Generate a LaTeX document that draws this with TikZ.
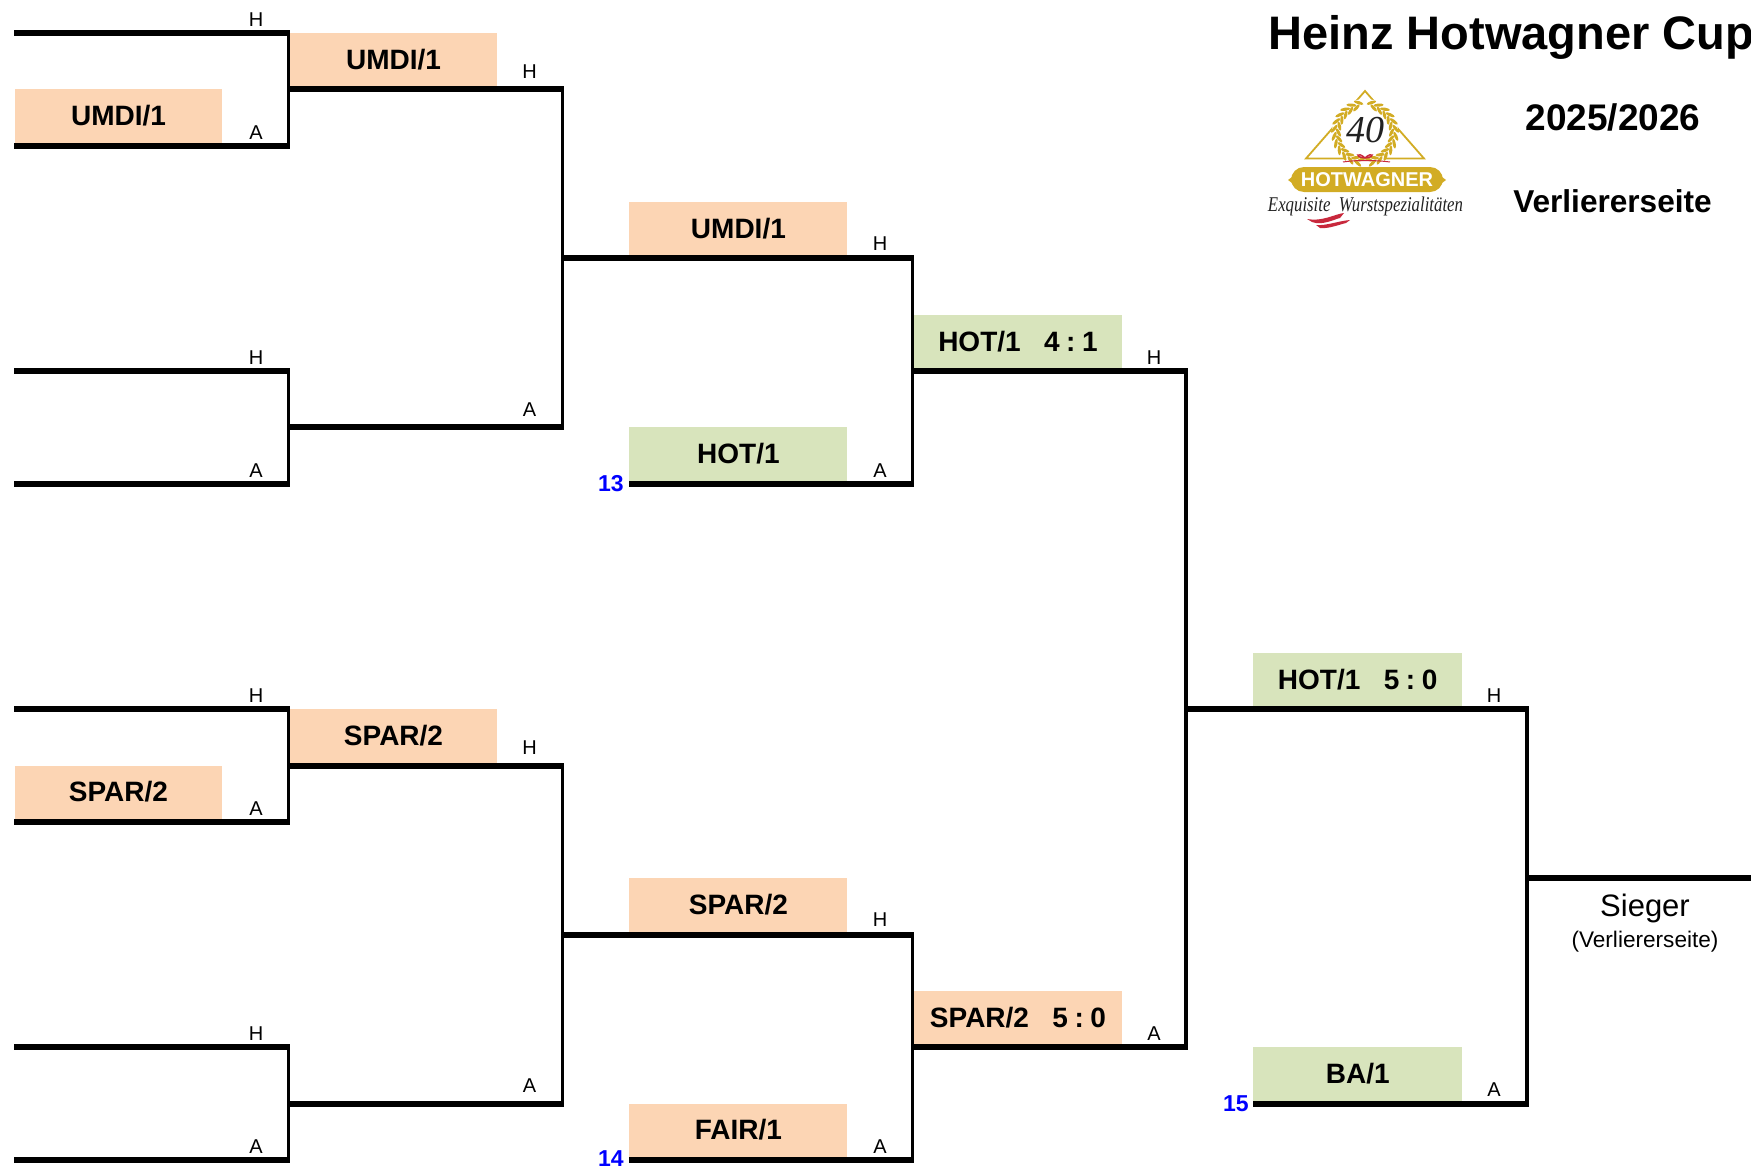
\documentclass[tikz,border=0pt]{standalone}
\usepackage{fontspec}
\setmainfont{Liberation Sans}
\newfontfamily\logoserif{Liberation Serif}
\definecolor{boxorange}{HTML}{FCD5B4}
\definecolor{boxgreen}{HTML}{D8E4BC}
\definecolor{logogold}{HTML}{D2AC24}
\definecolor{logored}{HTML}{C8283C}
\definecolor{logoink}{HTML}{222222}
\newcommand{\fs}[1]{\fontsize{#1pt}{#1pt}\selectfont}
\newcommand{\sep}{\hspace{3.3pt}}
\tikzset{
  hline/.style={line width=3pt,line cap=butt},
  vline/.style={line width=1.6pt,line cap=butt},
  basebox/.style={inner sep=0pt,minimum height=28pt,anchor=south west,font=\bfseries\fs{14},text height=9pt,text depth=0.7pt},
  wa/.style={basebox,fill=boxorange,minimum width=103.6pt},
  wg/.style={basebox,fill=boxgreen,minimum width=103.6pt},
  na/.style={basebox,fill=boxorange,minimum width=109pt},
  ng/.style={basebox,fill=boxgreen,minimum width=109pt},
  lab/.style={inner sep=0pt,font=\fs{10}},
  num/.style={inner sep=0pt,font=\bfseries\fs{11.5},text=blue},
  head/.style={inner sep=0pt,font=\bfseries},
}
\begin{document}
\begin{tikzpicture}[x=0.5pt,y=-0.5pt]
\useasboundingbox (0,0) rectangle (1751,1167);
\begin{scope}[yshift=-0.15pt]
% boxes
\node[wa] (b1) at (14.5,145.4) {UMDI/1};
\node[wa] (b2) at (14.5,821.6) {SPAR/2};
\node[wa] (b3) at (289.5,89.05) {UMDI/1};
\node[wa] (b4) at (289.5,765.25) {SPAR/2};
\node[na] (b5) at (629,258.1) {UMDI/1};
\node[ng] (b6) at (629,483.5) {HOT/1};
\node[na] (b7) at (629,934.3) {SPAR/2};
\node[na] (b8) at (629,1159.7) {FAIR/1};
\node[wg] (b9) at (914,370.8) {HOT/1\ \ \ 4\sep:\sep1};
\node[wa] (b10) at (914,1047) {SPAR/2\ \ \ 5\sep:\sep0};
\node[wg,minimum width=104.3pt] (b11) at (1253,708.9) {HOT/1\ \ \ 5\sep:\sep0};
\node[wg,minimum width=104.3pt] (b12) at (1253,1103.35) {BA/1};
% junction points
\coordinate (a0) at (14,32.7);   \coordinate (a0e) at (290,32.7);
\coordinate (a2) at (14,145.4);  \coordinate (a2e) at (290,145.4);
\coordinate (a6) at (14,370.8);  \coordinate (a6e) at (290,370.8);
\coordinate (a8) at (14,483.5);  \coordinate (a8e) at (290,483.5);
\coordinate (a12) at (14,708.9); \coordinate (a12e) at (290,708.9);
\coordinate (a14) at (14,821.6); \coordinate (a14e) at (290,821.6);
\coordinate (a18) at (14,1047);  \coordinate (a18e) at (290,1047);
\coordinate (a20) at (14,1159.7);\coordinate (a20e) at (290,1159.7);
\coordinate (v1a) at (288.6,31); \coordinate (v1b) at (288.6,147);
\coordinate (v2a) at (288.6,369); \coordinate (v2b) at (288.6,485);
\coordinate (v3a) at (288.6,707); \coordinate (v3b) at (288.6,823);
\coordinate (v4a) at (288.6,1045); \coordinate (v4b) at (288.6,1161);
\coordinate (c1) at (288,89.05);  \coordinate (c1e) at (564,89.05);
\coordinate (c7) at (288,427.15); \coordinate (c7e) at (564,427.15);
\coordinate (c13) at (288,765.25);\coordinate (c13e) at (564,765.25);
\coordinate (c19) at (288,1103.35);\coordinate (c19e) at (564,1103.35);
\coordinate (v5a) at (562.6,88); \coordinate (v5b) at (562.6,429);
\coordinate (v6a) at (562.6,764); \coordinate (v6b) at (562.6,1105);
\coordinate (d4) at (562,258.1); \coordinate (d4e) at (914,258.1);
\coordinate (d8) at (629,483.5); \coordinate (d8e) at (914,483.5);
\coordinate (d16) at (562,934.3);\coordinate (d16e) at (914,934.3);
\coordinate (d20) at (629,1159.7);\coordinate (d20e) at (914,1159.7);
\coordinate (v7a) at (912.5,257); \coordinate (v7b) at (912.5,485);
\coordinate (v8a) at (912.5,933); \coordinate (v8b) at (912.5,1161);
\coordinate (e6) at (912,370.8); \coordinate (e6e) at (1187.5,370.8);
\coordinate (e18) at (912,1047); \coordinate (e18e) at (1187.5,1047);
\coordinate (v9a) at (1186,370); \coordinate (v9b) at (1186,1048);
\coordinate (f12) at (1186,708.9); \coordinate (f12e) at (1528.5,708.9);
\coordinate (f19) at (1253,1103.35); \coordinate (f19e) at (1528.5,1103.35);
\coordinate (v10a) at (1527,708); \coordinate (v10b) at (1527,1105);
\coordinate (g15) at (1527,877.95); \coordinate (g15e) at (1751,877.95);
% horizontal connectors
\foreach \p/\q in {a0/a0e,a2/a2e,a6/a6e,a8/a8e,a12/a12e,a14/a14e,a18/a18e,a20/a20e,
  c1/c1e,c7/c7e,c13/c13e,c19/c19e,d4/d4e,d8/d8e,d16/d16e,d20/d20e,e6/e6e,e18/e18e,f12/f12e,f19/f19e,g15/g15e}
  \draw[hline] (\p) -- (\q);
% vertical connectors
\foreach \p/\q in {v1a/v1b,v2a/v2b,v3a/v3b,v4a/v4b,v5a/v5b,v6a/v6b,v7a/v7b,v8a/v8b,v9a/v9b,v10a/v10b}
  \draw[vline] (\p) -- (\q);
% H / A labels
\foreach \n/\x/\y/\t in {l1/256/19.5/H,l2/256/132/A,l3/256/357/H,l4/256/470/A,l5/256/695/H,l6/256/808/A,l7/256/1033/H,l8/256/1146/A,
  l9/529.5/71.5/H,l10/529.5/409.5/A,l11/529.5/747.5/H,l12/529.5/1085.5/A,
  l13/880/243.5/H,l14/880/470/A,l15/880/919.5/H,l16/880/1146/A,
  l17/1154/357/H,l18/1154/1033/A,l19/1494/695/H,l20/1494/1089/A}
  \node[lab] (\n) at (\x,\y) {\t};
% round numbers
\node[num,anchor=east] (n13) at (624,483.5) {13};
\node[num,anchor=east] (n14) at (624,1158.4) {14};
\node[num,anchor=east] (n15) at (1249,1103.35) {15};
\end{scope}
% heading
\node[head,anchor=west,font=\bfseries\fs{23.5}] (title) at (1268,37.5) {Heinz Hotwagner Cup};
\node[head,font=\bfseries\fs{18.5}] (season) at (1613,117) {2025/2026};
\node[head,font=\bfseries\fs{15.8}] (side) at (1612.5,201) {Verliererseite};
\node[inner sep=0pt,font=\fs{15.5}] (sieger) at (1645,908) {Sieger};
\node[inner sep=0pt,font=\fs{11.3}] (siegersub) at (1645,942) {(Verliererseite)};
% logo
\draw[logogold,line width=0.9pt,line join=miter] (1365,91) -- (1306,158.5) -- (1424,158.5) -- cycle;
\fill[white] (1365,132) circle [radius=33];
\foreach \t in {102,116,...,256} {
  \fill[logogold] ({1365+31*cos(\t)},{133-31*sin(\t)}) ellipse [x radius=2.5pt,y radius=0.8pt,rotate=\t+60];
  \fill[logogold] ({1365+26.5*cos(\t+7)},{133-26.5*sin(\t+7)}) ellipse [x radius=2.3pt,y radius=0.8pt,rotate=\t+125];
}
\foreach \t in {78,64,...,-76} {
  \fill[logogold] ({1365+31*cos(\t)},{133-31*sin(\t)}) ellipse [x radius=2.5pt,y radius=0.8pt,rotate=\t+120];
  \fill[logogold] ({1365+26.5*cos(\t-7)},{133-26.5*sin(\t-7)}) ellipse [x radius=2.3pt,y radius=0.8pt,rotate=\t+55];
}
\node[inner sep=0pt,text=logoink,font=\logoserif\itshape\fs{19}] (logo40) at (1365,130) {40};
\draw[logored,line width=0.5pt] (1343,162) .. controls (1355,160) and (1375,160) .. (1390,162);
\draw[logored,line width=0.7pt] (1365,158) .. controls (1358,151) and (1353,157) .. (1365,158)
  .. controls (1377,157) and (1372,151) .. (1365,158);
\node[fill=logogold,rounded corners=6.5pt,minimum width=76pt,minimum height=12.5pt,inner sep=0pt,
  text=white,font=\bfseries\fs{10}] (logopill) at (1367,179.5) {HOTWAGNER};
\fill[logogold] (1288,180) -- (1292,177) -- (1292,183) -- cycle;
\fill[logogold] (1446,180) -- (1442,177) -- (1442,183) -- cycle;
\node[inner sep=0pt,text=logoink,font=\logoserif\itshape\fs{10.5}] (logoscript) at (1365.5,206) {\scalebox{0.8}[1]{Exquisite\ \ Wurstspezialitäten}};
\fill[logored] (1307,219) .. controls (1322,222) and (1335,214) .. (1344,213) -- (1340,218) .. controls (1335,219) and (1322,226) .. (1312,222) -- cycle;
\fill[logored] (1316,225) .. controls (1326,226) and (1338,221) .. (1350,220) -- (1346,223) .. controls (1338,225) and (1328,229) .. (1320,228) -- cycle;
\end{tikzpicture}
\end{document}
